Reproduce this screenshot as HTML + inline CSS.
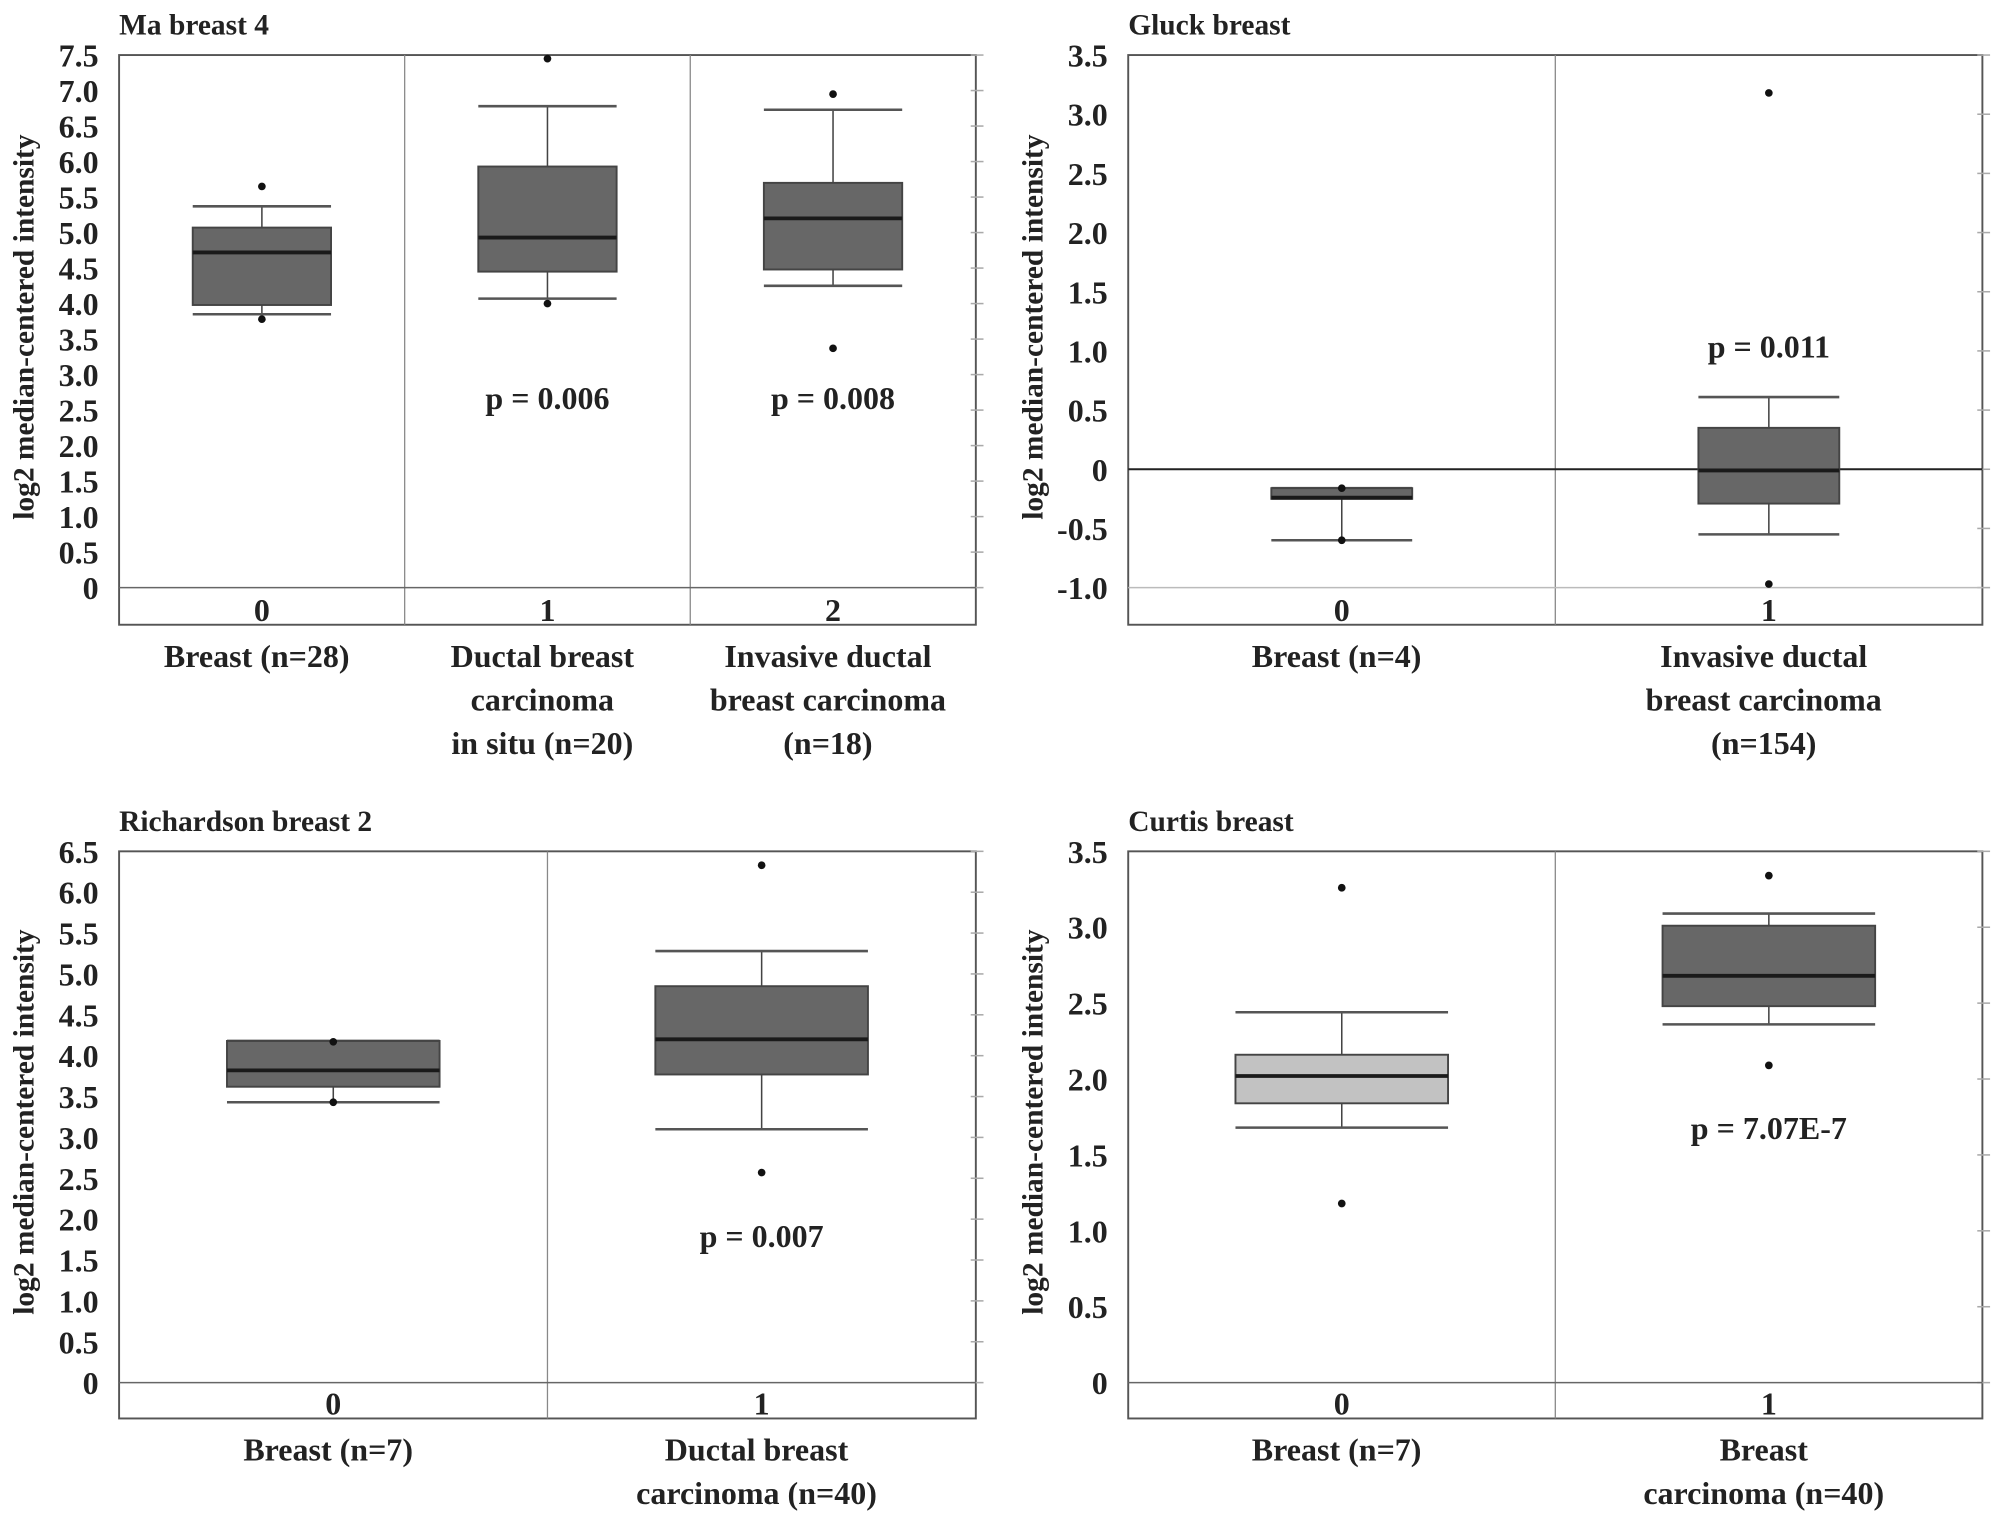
<!DOCTYPE html>
<html><head><meta charset="utf-8"><style>
html,body{margin:0;padding:0;background:#fff;}
svg{display:block;}
text{font-family:"Liberation Serif",serif;font-weight:bold;fill:#222;}
</style></head><body>
<svg id="chart" width="2008" height="1526" viewBox="0 0 1568 1192" preserveAspectRatio="none" xmlns="http://www.w3.org/2000/svg"></svg>
<script>
// Panel A: Ma breast 4
const aTitle = "Ma breast 4";
const aTicks = [0,0.5,1.0,1.5,2.0,2.5,3.0,3.5,4.0,4.5,5.0,5.5,6.0,6.5,7.0,7.5];
const aTickLabels = ["0","0.5","1.0","1.5","2.0","2.5","3.0","3.5","4.0","4.5","5.0","5.5","6.0","6.5","7.0","7.5"];
const aCats = [["Breast (n=28)"],["Ductal breast","carcinoma","in situ (n=20)"],["Invasive ductal","breast carcinoma","(n=18)"]];
const aQ1 = [3.98,4.45,4.48];
const aMed = [4.72,4.93,5.20];
const aQ3 = [5.07,5.93,5.70];
const aLo = [3.85,4.07,4.25];
const aHi = [5.37,6.78,6.73];
const aOut = [[5.65,3.78],[7.45,4.0],[6.95,3.37]];
const aP = ["","p = 0.006","p = 0.008"];
const aPy = [0,2.68,2.68];

// Panel B: Gluck breast
const bTitle = "Gluck breast";
const bTicks = [-1.0,-0.5,0,0.5,1.0,1.5,2.0,2.5,3.0,3.5];
const bTickLabels = ["-1.0","-0.5","0","0.5","1.0","1.5","2.0","2.5","3.0","3.5"];
const bCats = [["Breast (n=4)"],["Invasive ductal","breast carcinoma","(n=154)"]];
const bQ1 = [-0.25,-0.29];
const bMed = [-0.24,-0.01];
const bQ3 = [-0.16,0.35];
const bLo = [-0.60,-0.55];
const bHi = [-0.16,0.61];
const bOut = [[-0.16,-0.60],[3.18,-0.97]];
const bP = ["","p = 0.011"];
const bPy = [0,1.04];

// Panel C: Richardson breast 2
const cTitle = "Richardson breast 2";
const cTicks = [0,0.5,1.0,1.5,2.0,2.5,3.0,3.5,4.0,4.5,5.0,5.5,6.0,6.5];
const cTickLabels = ["0","0.5","1.0","1.5","2.0","2.5","3.0","3.5","4.0","4.5","5.0","5.5","6.0","6.5"];
const cCats = [["Breast (n=7)"],["Ductal breast","carcinoma (n=40)"]];
const cQ1 = [3.62,3.77];
const cMed = [3.82,4.20];
const cQ3 = [4.18,4.85];
const cLo = [3.43,3.10];
const cHi = [4.18,5.28];
const cOut = [[4.17,3.43],[6.33,2.57]];
const cP = ["","p = 0.007"];
const cPy = [0,1.8];

// Panel D: Curtis breast
const dTitle = "Curtis breast";
const dTicks = [0,0.5,1.0,1.5,2.0,2.5,3.0,3.5];
const dTickLabels = ["0","0.5","1.0","1.5","2.0","2.5","3.0","3.5"];
const dCats = [["Breast (n=7)"],["Breast","carcinoma (n=40)"]];
const dQ1 = [1.84,2.48];
const dMed = [2.02,2.68];
const dQ3 = [2.16,3.01];
const dLo = [1.68,2.36];
const dHi = [2.44,3.09];
const dOut = [[3.26,1.18],[3.34,2.09]];
const dP = ["","p = 7.07E-7"];
const dPy = [0,1.68];

const NS="http://www.w3.org/2000/svg";
const svg=document.getElementById('chart');
function el(tag,attrs,parent){const e=document.createElementNS(NS,tag);for(const k in attrs)e.setAttribute(k,attrs[k]);(parent||svg).appendChild(e);return e;}

function panel(cfg){
  const g=el('g',{});
  
  
  const L=cfg.left,R=cfg.right,T=cfg.top,B=cfg.bottom;
  const vmin=cfg.vmin,vmax=cfg.vmax,y0=cfg.ymin,y1=cfg.ymax;
  const y=v=>y0+(vmax-v)*(y1-y0)/(vmax-vmin);
  const n=cfg.q1.length, cw=(R-L)/n;
  const xc=i=>L+cw*(i+0.5);
  const t=el('text',{x:L,y:T-16,'font-size':23},g);t.textContent=cfg.title;
  
  
  const fr=el('rect',{x:L,y:T,width:R-L,height:B-T,fill:'none',stroke:'#555','stroke-width':1.5},g);
  
  
  for(let i=1;i<n;i++){const d=el('line',{x1:L+cw*i,x2:L+cw*i,y1:T,y2:B,stroke:'#888','stroke-width':1},g);
    
    }
  cfg.ticks.forEach((v,i)=>{
    const yy=y(v);
    const tl=el('text',{x:L-16,y:yy+9,'font-size':25,'text-anchor':'end'},g);tl.textContent=cfg.tickLabels[i];
    
    
    el('line',{x1:R-4,x2:R+6,y1:yy,y2:yy,stroke:'#aaa','stroke-width':1.2},g);
  });
  const gl=el('line',{x1:L,x2:R,y1:y(vmin),y2:y(vmin),stroke:vmin===0?'#666':'#bbb','stroke-width':1.2},g);
  
  
  if(vmin<0){const zl=el('line',{x1:L,x2:R,y1:y(0),y2:y(0),stroke:'#222','stroke-width':1.5},g);
    
    }
  const cy=(T+B)/2-10;
  const yt=el('text',{x:0,y:0,'font-size':23,'text-anchor':'middle',transform:`translate(${L-67},${cy}) rotate(-90)`},g);
  yt.textContent='log2 median-centered intensity';
  
  
  for(let i=0;i<n;i++){
    const x=xc(i),hw=cfg.hw;
    const bg=el('g',{},g);
    
    
    el('line',{x1:x,x2:x,y1:y(cfg.lo[i]),y2:y(cfg.q1[i]),stroke:'#444','stroke-width':1.2},bg);
    el('line',{x1:x,x2:x,y1:y(cfg.hi[i]),y2:y(cfg.q3[i]),stroke:'#444','stroke-width':1.2},bg);
    el('line',{x1:x-hw,x2:x+hw,y1:y(cfg.lo[i]),y2:y(cfg.lo[i]),stroke:'#555','stroke-width':2},bg);
    el('line',{x1:x-hw,x2:x+hw,y1:y(cfg.hi[i]),y2:y(cfg.hi[i]),stroke:'#555','stroke-width':2},bg);
    el('rect',{x:x-hw,y:y(cfg.q3[i]),width:2*hw,height:y(cfg.q1[i])-y(cfg.q3[i]),fill:(cfg.light&&cfg.light[i])?'#c2c2c2':'#676767',stroke:'#444','stroke-width':1.5},bg);
    el('line',{x1:x-hw,x2:x+hw,y1:y(cfg.med[i]),y2:y(cfg.med[i]),stroke:'#1a1a1a','stroke-width':3},bg);
    cfg.out[i].forEach(v=>{const c=el('circle',{cx:x,cy:y(v),r:3,fill:'#111'},bg);
      
      });
    if(cfg.p[i]){const pt=el('text',{x:x,y:y(cfg.py[i])+9,'font-size':25,'text-anchor':'middle'},g);pt.textContent=cfg.p[i];
      
      }
    const ci=el('text',{x:x,y:B-3,'font-size':25,'text-anchor':'middle'},g);ci.textContent=String(i);
    
    
    cfg.cats[i].forEach((ln,k)=>{const ct=el('text',{x:x-4,y:B+33+k*34,'font-size':25,'text-anchor':'middle'},g);ct.textContent=ln;
      
      });
  }
}
panel({name:'panel-ma-breast-4',title:aTitle,left:93,right:762,top:43,bottom:488,vmin:0,vmax:7.5,ymin:43,ymax:459,ticks:aTicks,tickLabels:aTickLabels,cats:aCats,q1:aQ1,med:aMed,q3:aQ3,lo:aLo,hi:aHi,out:aOut,p:aP,py:aPy,hw:54});
panel({name:'panel-gluck-breast',title:bTitle,left:881,right:1548,top:43,bottom:488,vmin:-1.0,vmax:3.5,ymin:43,ymax:459,ticks:bTicks,tickLabels:bTickLabels,cats:bCats,q1:bQ1,med:bMed,q3:bQ3,lo:bLo,hi:bHi,out:bOut,p:bP,py:bPy,hw:55});
panel({name:'panel-richardson-breast-2',title:cTitle,left:93,right:762,top:665,bottom:1108,vmin:0,vmax:6.5,ymin:665,ymax:1080,ticks:cTicks,tickLabels:cTickLabels,cats:cCats,q1:cQ1,med:cMed,q3:cQ3,lo:cLo,hi:cHi,out:cOut,p:cP,py:cPy,hw:83});
panel({name:'panel-curtis-breast',title:dTitle,left:881,right:1548,top:665,bottom:1108,vmin:0,vmax:3.5,ymin:665,ymax:1080,ticks:dTicks,tickLabels:dTickLabels,cats:dCats,q1:dQ1,med:dMed,q3:dQ3,lo:dLo,hi:dHi,out:dOut,p:dP,py:dPy,hw:83,light:[true,false]});
</script>
</body></html>
